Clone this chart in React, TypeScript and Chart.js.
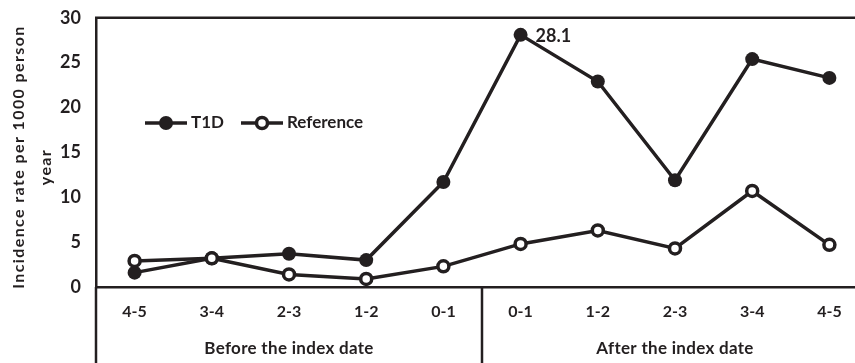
import React, { useEffect, useRef } from "react";
import { Chart, registerables } from "chart.js";

Chart.register(...registerables);

const categories = ["4-5", "3-4", "2-3", "1-2", "0-1", "0-1", "1-2", "2-3", "3-4", "4-5"];
const t1dValues = [1.6, 3.2, 3.7, 3.0, 11.7, 28.1, 22.9, 11.9, 25.4, 23.3];
const referenceValues = [2.9, 3.2, 1.4, 0.9, 2.3, 4.8, 6.3, 4.3, 10.7, 4.7];
const groupLabels = ["Before the index date", "After the index date"];
const seriesNames = ["T1D", "Reference"];
const yTitleLines = ["Incidence rate per 1000 person", "year"];
const peakLabel = "28.1";

const INK = "#231f20";
const FONT = "Lato, 'Open Sans', sans-serif";
const CANVAS_W = 877;

export default function App() {
  const ref = useRef<HTMLCanvasElement | null>(null);

  useEffect(() => {
    const canvas = ref.current;
    if (!canvas) return;

    const decor = {
      id: "decor",
      afterDraw(chart: any) {
        const ctx = chart.ctx as CanvasRenderingContext2D;
        const { left, top, bottom } = chart.chartArea;
        const x = chart.scales.x;
        const y = chart.scales.y;
        const H = chart.height;
        const step = x.getPixelForValue(1) - x.getPixelForValue(0);
        ctx.save();
        ctx.strokeStyle = INK;
        ctx.lineWidth = 2.5;
        ctx.beginPath();
        ctx.moveTo(left - 1, top);
        ctx.lineTo(chart.width, top);
        ctx.stroke();
        ctx.beginPath();
        ctx.moveTo(left, bottom);
        ctx.lineTo(left, H);
        ctx.stroke();
        const mid = (x.getPixelForValue(4) + x.getPixelForValue(5)) / 2;
        ctx.beginPath();
        ctx.moveTo(mid, bottom);
        ctx.lineTo(mid, H);
        ctx.stroke();

        ctx.fillStyle = INK;
        ctx.font = `bold 17px ${FONT}`;
        ctx.textAlign = "center";
        ctx.textBaseline = "middle";
        (ctx as any).letterSpacing = "0.3px";
        ctx.fillText(groupLabels[0], (left + mid) / 2, 349);
        ctx.fillText(groupLabels[1], (mid + x.getPixelForValue(9) + step / 2) / 2, 349);

        ctx.save();
        ctx.font = `bold 16px ${FONT}`;
        (ctx as any).letterSpacing = "1.4px";
        ctx.translate(19, 157);
        ctx.rotate(-Math.PI / 2);
        ctx.fillText(yTitleLines[0], 0, 0);
        ctx.fillText(yTitleLines[1], -10, 27);
        ctx.restore();
        (ctx as any).letterSpacing = "0px";

        const ly = 123;
        const drawItem = (x0: number, filled: boolean, label: string) => {
          ctx.strokeStyle = INK;
          ctx.lineWidth = 3.5;
          ctx.beginPath();
          ctx.moveTo(x0, ly);
          ctx.lineTo(x0 + 42, ly);
          ctx.stroke();
          ctx.beginPath();
          ctx.arc(x0 + 21, ly, filled ? 7 : 5.5, 0, Math.PI * 2);
          if (filled) {
            ctx.fillStyle = INK;
            ctx.fill();
          } else {
            ctx.fillStyle = "#ffffff";
            ctx.fill();
            ctx.lineWidth = 3.5;
            ctx.stroke();
          }
          ctx.fillStyle = INK;
          ctx.font = `bold 17px ${FONT}`;
          ctx.textAlign = "left";
          ctx.textBaseline = "middle";
          ctx.fillText(label, x0 + 46, ly);
        };
        drawItem(145, true, seriesNames[0]);
        drawItem(241, false, seriesNames[1]);

        const maxIdx = t1dValues.indexOf(Math.max(...t1dValues));
        ctx.font = `bold 18px ${FONT}`;
        ctx.textAlign = "left";
        ctx.textBaseline = "middle";
        ctx.fillStyle = INK;
        ctx.fillText(peakLabel, x.getPixelForValue(maxIdx) + 15, y.getPixelForValue(t1dValues[maxIdx]) + 1);
        ctx.restore();
      },
    };

    const chart = new Chart(canvas, {
      type: "line",
      data: {
        labels: categories,
        datasets: [
          {
            label: seriesNames[0],
            data: t1dValues,
            borderColor: INK,
            backgroundColor: INK,
            borderWidth: 3.5,
            pointRadius: 7,
            pointBorderWidth: 0,
            pointBackgroundColor: INK,
            pointBorderColor: INK,
            order: 2,
          },
          {
            label: seriesNames[1],
            data: referenceValues,
            borderColor: INK,
            backgroundColor: "#ffffff",
            borderWidth: 3.5,
            pointRadius: 5.5,
            pointBorderWidth: 3.5,
            pointBackgroundColor: "#ffffff",
            pointBorderColor: INK,
            order: 1,
          },
        ],
      },
      options: {
        animation: false,
        responsive: false,
        maintainAspectRatio: false,
        layout: { padding: { top: 16, left: 0, right: 0, bottom: 0 } },
        plugins: { legend: { display: false }, tooltip: { enabled: false } },
        scales: {
          x: {
            type: "category",
            offset: true,
            grid: { display: false },
            border: { display: true, color: INK, width: 2.5 },
            ticks: {
              color: INK,
              font: { family: FONT, size: 16, weight: "bold" },
              padding: 7,
              autoSkip: false,
              maxRotation: 0,
            },
            afterFit: (s: any) => {
              s.height = 76;
            },
          },
          y: {
            min: 0,
            max: 30,
            grid: { display: false },
            border: { display: true, color: INK, width: 2.5 },
            ticks: {
              stepSize: 5,
              color: INK,
              font: { family: FONT, size: 18, weight: "bold" },
              padding: 7,
            },
            afterFit: (s: any) => {
              s.width = 96;
            },
          },
        },
      },
      plugins: [decor],
    });

    return () => chart.destroy();
  }, []);

  return (
    <div
      style={{
        position: "fixed",
        left: 0,
        top: 0,
        width: 855,
        height: 363,
        overflow: "hidden",
        background: "#ffffff",
      }}
    >
      <canvas ref={ref} width={CANVAS_W} height={363} style={{ display: "block", width: CANVAS_W, height: 363 }} />
    </div>
  );
}
